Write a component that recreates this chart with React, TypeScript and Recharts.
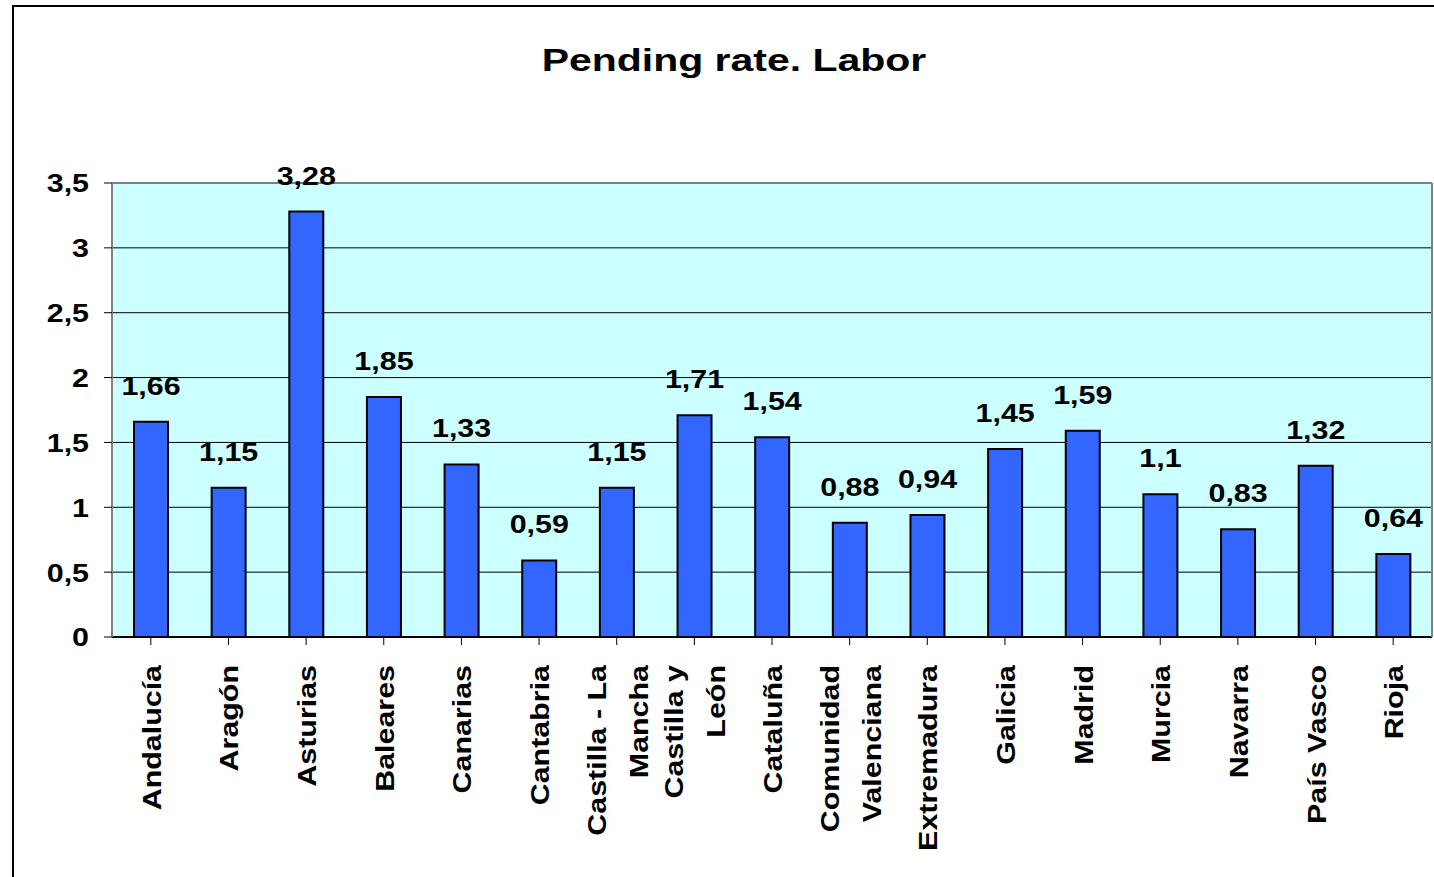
import React from 'react';
import { BarChart, Bar, XAxis, YAxis, CartesianGrid, LabelList, ReferenceLine } from 'recharts';

const regions = [
  'Andalucía',
  'Aragón',
  'Asturias',
  'Baleares',
  'Canarias',
  'Cantabria',
  'Castilla - La\nMancha',
  'Castilla y\nLeón',
  'Cataluña',
  'Comunidad\nValenciana',
  'Extremadura',
  'Galicia',
  'Madrid',
  'Murcia',
  'Navarra',
  'País Vasco',
  'Rioja',
];

const pendingRate = [1.66, 1.15, 3.28, 1.85, 1.33, 0.59, 1.15, 1.71, 1.54, 0.88, 0.94, 1.45, 1.59, 1.1, 0.83, 1.32, 0.64];

const yTicks = [0, 0.5, 1, 1.5, 2, 2.5, 3, 3.5];

const data = regions.map((region, i) => ({ region, value: pendingRate[i] }));

const FONT = 'Arial, "Liberation Sans", Helvetica, sans-serif';
const comma = (v: number) => String(v).replace('.', ',');

// the original text is drawn a bit wider than Arial, so stretch it sideways
const STRETCH = 1.17;

const RegionTick = (props: any) => {
  const { x, y, payload } = props;
  const lines = String(payload.value).split('\n');
  const gap = 42;
  const first = -((lines.length - 1) * gap) / 2 + 10;
  return (
    <g transform={`translate(${x},${y + 18}) rotate(-90) scale(${STRETCH},1)`}>
      <text textAnchor="end" fontSize={26} fontWeight="bold" fill="#000" fontFamily={FONT}>
        {lines.map((line, i) => (
          <tspan key={i} x={0} y={first + i * gap}>
            {line}
          </tspan>
        ))}
      </text>
    </g>
  );
};

const RateTick = (props: any) => {
  const { x, y, payload } = props;
  return (
    <g transform={`translate(${x},${y}) scale(${STRETCH},1)`}>
      <text textAnchor="end" dy="0.36em" fontSize={26} fontWeight="bold" fill="#000" fontFamily={FONT}>
        {comma(payload.value)}
      </text>
    </g>
  );
};

const ValueLabel = (props: any) => {
  const { x, y, width, value } = props;
  return (
    <g transform={`translate(${Number(x) + Number(width) / 2},${Number(y) - 27}) scale(1.17,1)`}>
      <text textAnchor="middle" fontSize={26} fontWeight="bold" fill="#000" fontFamily={FONT}>
        {comma(Number(value))}
      </text>
    </g>
  );
};

export default function App() {
  return (
    <div style={{ position: 'absolute', left: 0, top: 0, width: 1434, height: 877, overflow: 'hidden', background: '#fff', fontFamily: FONT }}>
      <div
        style={{
          position: 'absolute',
          left: 12,
          top: 5,
          width: 1460,
          height: 900,
          borderLeft: '2px solid #000',
          borderTop: '2px solid #000',
        }}
      />
      <div
        style={{
          position: 'absolute',
          left: 334,
          top: 40,
          width: 800,
          height: 40,
          lineHeight: '40px',
          textAlign: 'center',
          fontSize: 32,
          fontWeight: 'bold',
          color: '#000',
          transform: 'scaleX(1.28)',
        }}
      >
        Pending rate. Labor
      </div>
      <div style={{ position: 'absolute', left: 0, top: 0 }}>
        <BarChart
          width={1434}
          height={877}
          data={data}
          margin={{ top: 183, right: 1, left: 12, bottom: 10 }}
          barSize={34}
        >
          <CartesianGrid vertical={false} stroke="#000" strokeWidth={1} fill="#CCFFFF" fillOpacity={1} yAxisId="left" />
          <XAxis
            dataKey="region"
            interval={0}
            height={230}
            tickSize={8}
            axisLine={{ stroke: '#000', strokeWidth: 2 }}
            tickLine={{ stroke: '#000' }}
            tick={<RegionTick />}
          />
          <YAxis
            yAxisId="left"
            width={100}
            domain={[0, 3.5]}
            ticks={yTicks}
            tickSize={8}
            tickMargin={15}
            axisLine={{ stroke: '#808080', strokeWidth: 2 }}
            tickLine={{ stroke: '#000' }}
            tick={<RateTick />}
          />
          <YAxis
            yAxisId="right"
            orientation="right"
            width={1}
            domain={[0, 3.5]}
            tick={false}
            tickLine={false}
            axisLine={{ stroke: '#808080', strokeWidth: 2 }}
          />
          <ReferenceLine yAxisId="left" y={3.5} stroke="#808080" strokeWidth={2} />
          <Bar yAxisId="left" dataKey="value" fill="#3366FF" stroke="#000" strokeWidth={2} isAnimationActive={false}>
            <LabelList dataKey="value" content={<ValueLabel />} />
          </Bar>
        </BarChart>
      </div>
    </div>
  );
}
